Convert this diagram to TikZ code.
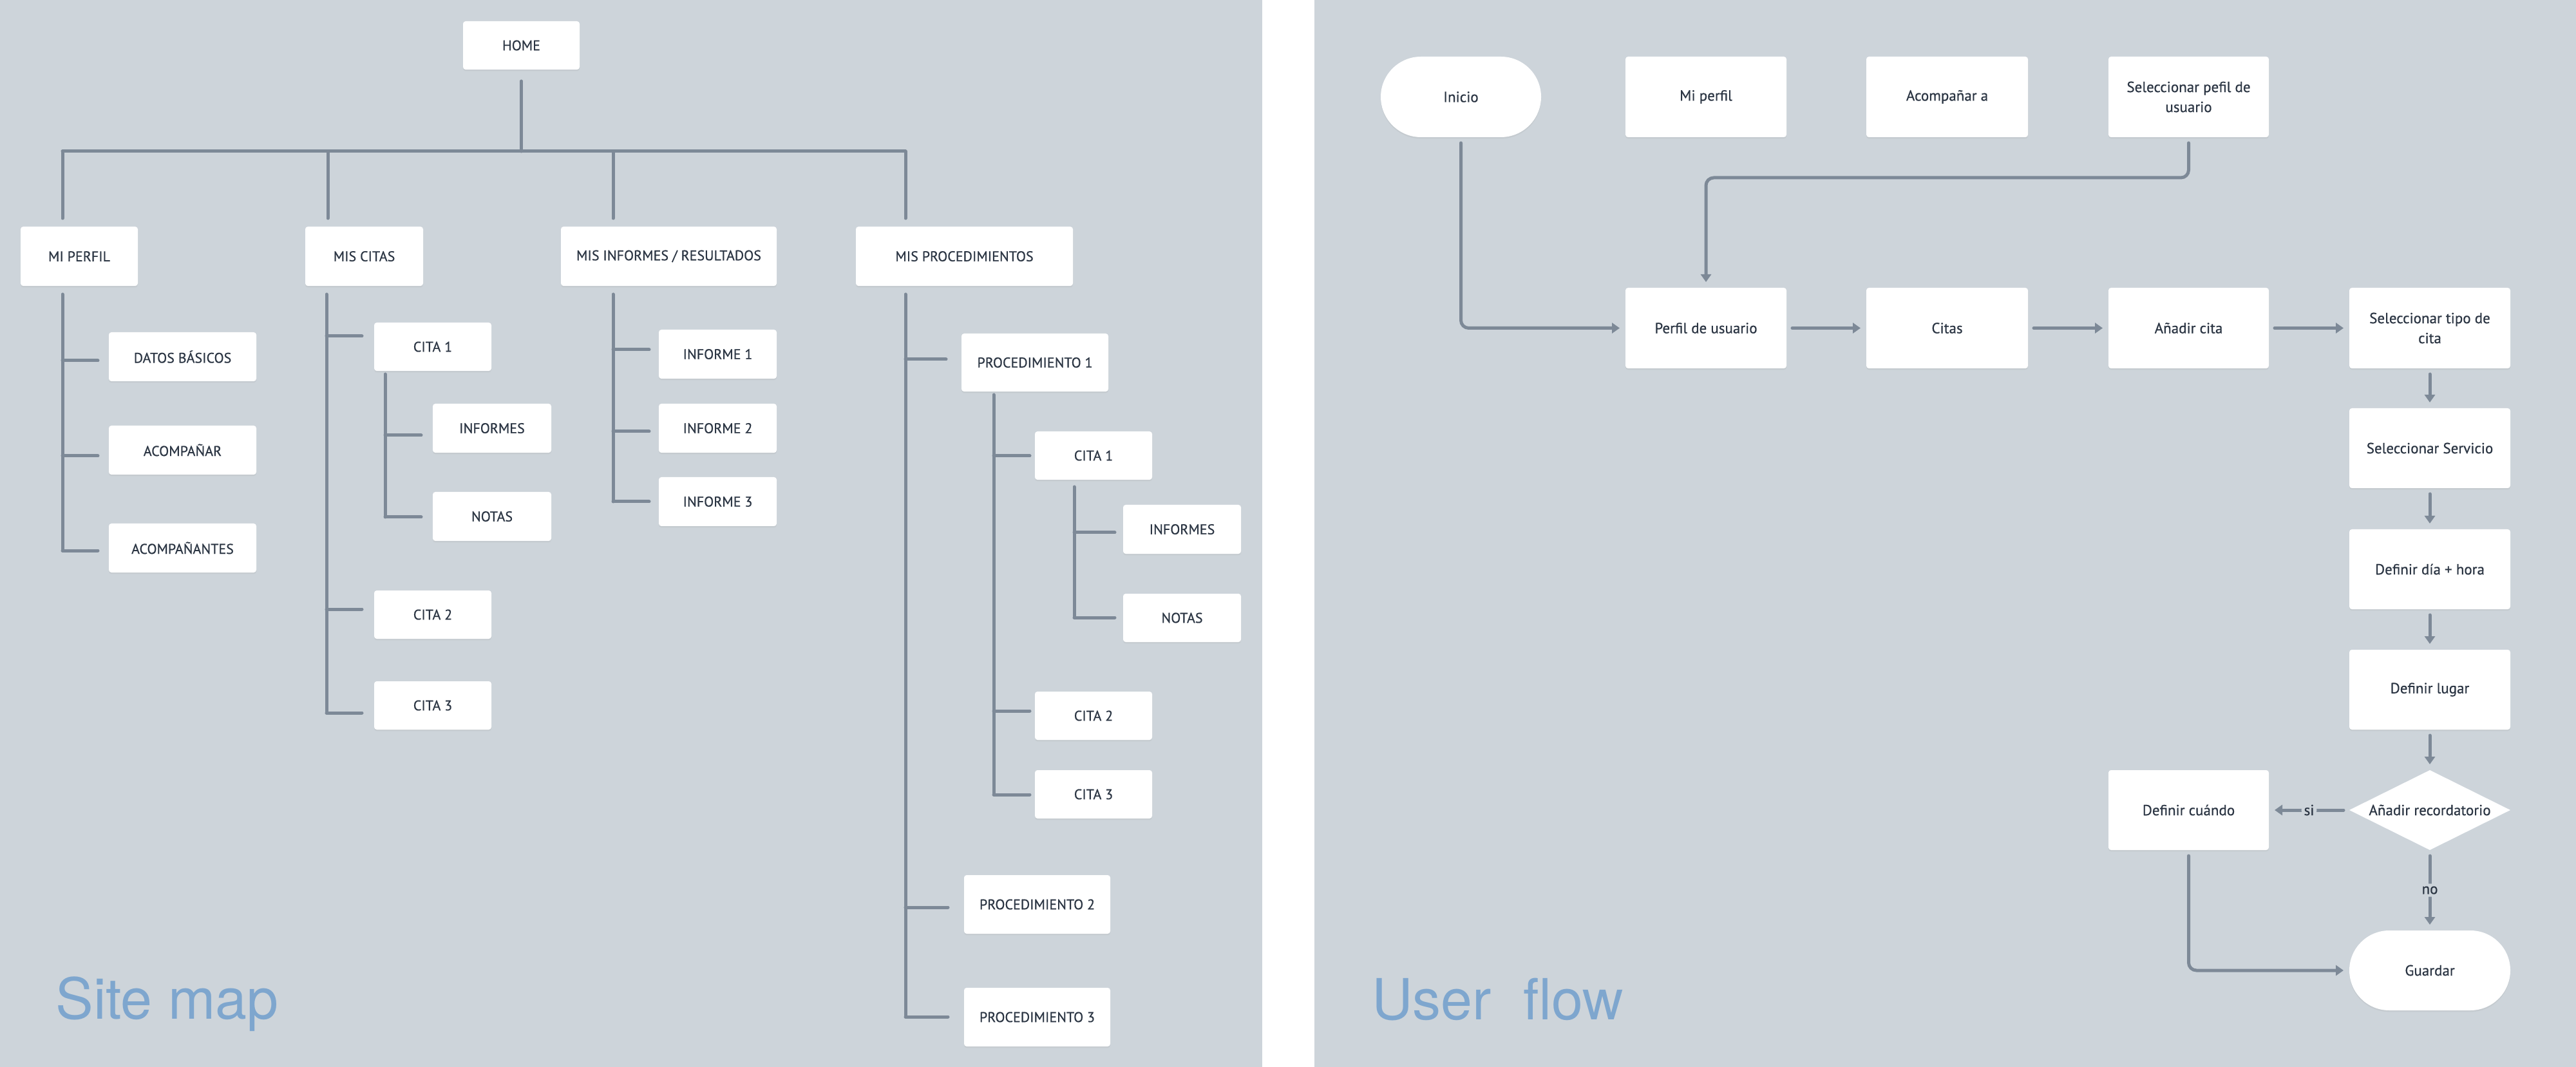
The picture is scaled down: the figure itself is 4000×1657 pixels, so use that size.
\documentclass[tikz,border=0pt]{standalone}
\usepackage{fontspec}
\setmainfont{PT Sans}[FakeBold=0.6]
\newfontfamily\titlefont{TeX Gyre Heros}
\usetikzlibrary{arrows.meta,shapes.geometric,shapes.misc,shadows}
\definecolor{bg}{HTML}{CDD4DA}
\definecolor{lc}{HTML}{7D8997}
\definecolor{txt}{HTML}{2B3543}
\definecolor{ttl}{HTML}{7EA6CE}
\tikzset{
  sbox/.style={fill=white, rounded corners=2pt, inner sep=0pt, outer sep=0pt,
    font=\fontsize{11}{14}\selectfont, text=txt, align=center,
    drop shadow={shadow xshift=0pt, shadow yshift=-1.2pt, opacity=0.10}},
  fbox/.style={sbox, font=\fontsize{11.5}{15.5}\selectfont},
  pill/.style={fill=white, rounded rectangle, inner sep=0pt, outer sep=0pt,
    font=\fontsize{11.5}{15.5}\selectfont, text=txt, align=center,
    drop shadow={shadow xshift=0pt, shadow yshift=-1.2pt, opacity=0.10}},
  decision/.style={fill=white, diamond, inner sep=0pt, outer sep=0pt},
  ln/.style={draw=lc, line width=2.5pt, line cap=round, line join=round},
  arr/.style={ln, -{Triangle[length=6pt,width=8pt]}, rounded corners=6pt,
    shorten <=4.5pt, shorten >=4.5pt},
  lbl/.style={fill=bg, inner sep=2pt, font=\fontsize{11.5}{14}\selectfont, text=txt},
  title/.style={anchor=base west, inner sep=0pt, text=ttl, font=\titlefont\fontsize{44}{50}\selectfont}
}
% box from corners (pixel coordinates): [style]{name}{x1}{y1}{x2}{y2}{text}
\newcommand{\bx}[7][sbox]{%
  \pgfmathsetmacro\bxcx{(#3+#5)/2}%
  \pgfmathsetmacro\bxcy{(#4+#6)/2}%
  \pgfmathsetmacro\bxw{(#5-#3)*0.5}%
  \pgfmathsetmacro\bxh{(#6-#4)*0.5}%
  \node[#1, minimum width=\bxw pt, minimum height=\bxh pt] (#2) at (\bxcx,\bxcy) {#7};}
% tick from spine point (x,y) towards node west, with gap
\newcommand{\tk}[4]{%
  \coordinate (tkp) at (#1,#2);
  \draw[ln, shorten >=#3] (tkp) -- (tkp -| #4.west);}
\begin{document}
\begin{tikzpicture}[x=0.5pt,y=-0.5pt]
\useasboundingbox (0,0) rectangle (4000,1657);
\fill[white] (0,0) rectangle (4000,1657);
\fill[bg] (0,0) rectangle (1960,1657);
\fill[bg] (2041,0) rectangle (4000,1657);

% ================= SITE MAP =================
\bx{home}{719}{33}{900}{108}{HOME}
\bx{mp}{32}{352}{214}{444}{MI PERFIL}
\bx{mc}{474}{352}{657}{444}{MIS CITAS}
\bx{mi}{871}{352}{1206}{444}{MIS INFORMES / RESULTADOS}
\bx{mpr}{1329}{352}{1666}{444}{MIS PROCEDIMIENTOS}

\bx{datos}{169}{516}{398}{592}{DATOS BÁSICOS}
\bx{acomp}{169}{661}{398}{737}{ACOMPAÑAR}
\bx{acomps}{169}{813}{398}{889}{ACOMPAÑANTES}

\bx{cita1}{581}{501}{763}{576}{CITA 1}
\bx{cinf}{672}{627}{856}{703}{INFORMES}
\bx{cnot}{672}{764}{856}{840}{NOTAS}
\bx{cita2}{581}{917}{763}{992}{CITA 2}
\bx{cita3}{581}{1058}{763}{1133}{CITA 3}

\bx{inf1}{1023}{512}{1206}{588}{INFORME 1}
\bx{inf2}{1023}{627}{1206}{703}{INFORME 2}
\bx{inf3}{1023}{741}{1206}{817}{INFORME 3}

\bx{proc1}{1493}{518}{1721}{608}{PROCEDIMIENTO 1}
\bx{pc1}{1607}{670}{1789}{745}{CITA 1}
\bx{pinf}{1744}{784}{1927}{860}{INFORMES}
\bx{pnot}{1744}{922}{1927}{997}{NOTAS}
\bx{pc2}{1607}{1074}{1789}{1149}{CITA 2}
\bx{pc3}{1607}{1196}{1789}{1271}{CITA 3}
\bx{proc2}{1497}{1359}{1724}{1450}{PROCEDIMIENTO 2}
\bx{proc3}{1497}{1534}{1724}{1625}{PROCEDIMIENTO 3}

% top bus
\coordinate (bL) at (97,235);
\coordinate (bR) at (1406,235);
\coordinate (dC) at (509,235);
\coordinate (dI) at (952,235);
\draw[ln, shorten <=9pt] (home.south) -- (home.south |- bL);
\draw[ln] (bL) -- (bR);
\draw[ln, shorten >=6.5pt] (bL) -- (mp.north -| bL);
\draw[ln, shorten >=6.5pt] (dC) -- (mc.north -| dC);
\draw[ln, shorten >=6.5pt] (dI) -- (mi.north -| dI);
\draw[ln, shorten >=6.5pt] (bR) -- (mpr.north -| bR);

% MI PERFIL subtree
\coordinate (s1) at (97,855);
\draw[ln, shorten <=6.5pt] (mp.south -| s1) -- (s1);
\tk{97}{560}{8.5pt}{datos}
\tk{97}{708}{8.5pt}{acomp}
\tk{97}{855}{8.5pt}{acomps}

% MIS CITAS subtree
\coordinate (s2) at (507,1107);
\draw[ln, shorten <=6.5pt] (mc.south -| s2) -- (s2);
\tk{507}{522}{9.5pt}{cita1}
\tk{507}{946}{9.5pt}{cita2}
\tk{507}{1107}{9.5pt}{cita3}
\coordinate (s3) at (598,803);
\draw[ln, shorten <=2.5pt] (cita1.south -| s3) -- (s3);
\tk{598}{676}{9pt}{cinf}
\tk{598}{803}{9pt}{cnot}

% MIS INFORMES subtree
\coordinate (s4) at (952,779);
\draw[ln, shorten <=6.5pt] (mi.south -| s4) -- (s4);
\tk{952}{543}{7.5pt}{inf1}
\tk{952}{670}{7.5pt}{inf2}
\tk{952}{779}{7.5pt}{inf3}

% MIS PROCEDIMIENTOS subtree
\coordinate (s5) at (1406,1579);
\draw[ln, shorten <=6.5pt] (mpr.south -| s5) -- (s5);
\tk{1406}{558}{12pt}{proc1}
\tk{1406}{1409}{12.5pt}{proc2}
\tk{1406}{1579}{12.5pt}{proc3}
\coordinate (s6) at (1543,1234);
\draw[ln, shorten <=2.5pt] (proc1.south -| s6) -- (s6);
\tk{1543}{708}{4pt}{pc1}
\tk{1543}{1104}{4pt}{pc2}
\tk{1543}{1234}{4pt}{pc3}
\coordinate (s7) at (1668,959);
\draw[ln, shorten <=5.5pt] (pc1.south -| s7) -- (s7);
\tk{1668}{827}{6.5pt}{pinf}
\tk{1668}{959}{6.5pt}{pnot}

\node[title] (tsm) at (86,1582) {Site map};

% ================= USER FLOW =================
\bx[pill]{ini}{2144}{88}{2393}{213}{Inicio}
\bx[fbox]{miperfil}{2524}{88}{2774}{213}{Mi perfil}
\bx[fbox]{acompa}{2898}{88}{3149}{213}{Acompañar a}
\bx[fbox]{selp}{3274}{88}{3523}{213}{Seleccionar pefil de\\usuario}
\bx[fbox]{perfil}{2524}{447}{2774}{572}{Perfil de usuario}
\bx[fbox]{citas}{2898}{447}{3149}{572}{Citas}
\bx[fbox]{anadir}{3274}{447}{3523}{572}{Añadir cita}
\bx[fbox]{tipo}{3648}{447}{3898}{572}{Seleccionar tipo de\\cita}
\bx[fbox]{serv}{3648}{634}{3898}{758}{Seleccionar Servicio}
\bx[fbox]{diah}{3648}{822}{3898}{946}{Definir día + hora}
\bx[fbox]{lugar}{3648}{1009}{3898}{1133}{Definir lugar}
\bx[decision]{rec}{3648}{1196}{3898}{1320}{}
\node[font=\fontsize{11.5}{14}\selectfont, text=txt] (rectxt) at (rec) {Añadir recordatorio};
\bx[fbox]{cuando}{3274}{1196}{3523}{1320}{Definir cuándo}
\bx[pill]{guardar}{3648}{1445}{3898}{1569}{Guardar}

\coordinate (selbend) at (3399,276);
\draw[arr] (ini.south) |- (perfil.west);
\draw[arr] (selp.south) -- (selp.south |- selbend) -| (perfil.north);
\draw[arr] (perfil.east) -- (citas.west);
\draw[arr] (citas.east) -- (anadir.west);
\draw[arr] (anadir.east) -- (tipo.west);
\draw[arr] (tipo.south) -- (serv.north);
\draw[arr] (serv.south) -- (diah.north);
\draw[arr] (diah.south) -- (lugar.north);
\draw[arr] (lugar.south) -- (rec.north);
\draw[arr] (rec.west) -- node[lbl] {si} (cuando.east);
\draw[arr] (rec.south) -- node[lbl] {no} (guardar.north);
\draw[arr] (cuando.south) |- (guardar.west);

\node[title] (tuf) at (2130,1583) {User\ \ flow};
\end{tikzpicture}
\end{document}
